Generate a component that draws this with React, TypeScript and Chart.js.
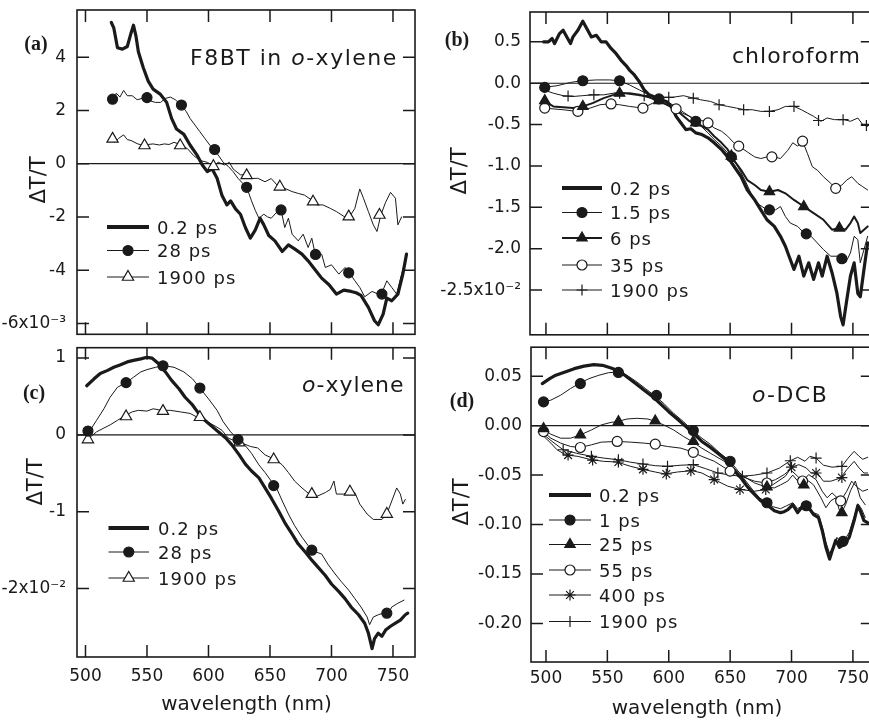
import React, { useEffect, useRef } from 'react';
import { Chart, registerables } from 'chart.js';

Chart.register(...registerables);

// ---------------- data ----------------
const WL_TICKS = [500, 550, 600, 650, 700, 750];

// (a) F8BT in o-xylene — ΔT/T in units of 1e-3
const A_YTICKS = [4, 2, 0, -2, -4, -6];
const A_02_NM = [521, 523, 526, 530, 534, 537, 539, 541, 543, 547, 551, 555, 561, 566, 570, 574, 580, 585, 591, 595, 599, 603, 607, 611, 615, 618, 622, 626, 630, 634, 638, 642, 645, 649, 654, 660, 665, 670, 676, 681, 687, 692, 698, 704, 710, 716, 720, 724, 730, 735, 738, 742, 745, 749, 754, 758, 761];
const A_02_Y = [5.3, 5.1, 4.35, 4.3, 4.4, 4.9, 5.2, 4.8, 4.2, 3.6, 3.1, 2.8, 2.6, 2.3, 1.7, 1.3, 1.1, 0.7, 0.3, -0.05, -0.3, -0.2, -0.55, -1.2, -1.55, -1.4, -1.7, -1.9, -2.4, -2.8, -2.5, -2.05, -2.3, -2.7, -2.9, -3.3, -3.05, -3.2, -3.4, -3.65, -4.0, -4.3, -4.55, -4.9, -4.75, -4.8, -4.85, -4.95, -5.4, -5.9, -6.05, -5.65, -5.05, -5.15, -4.9, -4.15, -3.4];
const A_28_NM = [520, 523, 525, 528, 531, 534, 538, 542, 546, 549, 553, 557, 561, 565, 569, 573, 578, 582, 585, 589, 593, 597, 601, 605, 609, 612, 616, 620, 624, 628, 631, 635, 638, 641, 645, 648, 651, 655, 659, 662, 665, 668, 673, 677, 681, 684, 687, 692, 695, 700, 706, 711, 714, 719, 723, 727, 733, 738, 741, 745, 749, 753, 757, 760];
const A_28_Y = [2.45, 2.3, 2.65, 2.5, 2.75, 2.55, 2.55, 2.4, 2.45, 2.48, 2.35, 2.3, 2.3, 2.45, 2.5, 2.4, 2.2, 1.95, 1.7, 1.45, 1.2, 0.95, 0.7, 0.5, 0.25, 0.05, -0.1, -0.3, -0.55, -0.75, -0.88, -1.4, -1.75, -2.05, -1.9, -2.0, -2.05, -1.85, -1.74, -2.4, -2.05, -2.65, -2.9, -2.65, -3.15, -2.8, -3.45, -3.4, -3.9, -3.8, -4.15, -3.9, -4.05, -4.4, -4.65, -5.0, -4.8, -4.9, -4.85, -4.4, -4.65, -4.9, -4.15, -3.65];
const A_28_MK_NM = [522, 550, 578, 605, 631, 659, 687, 714, 741];
const A_28_MK_Y = [2.42, 2.48, 2.2, 0.53, -0.89, -1.74, -3.41, -4.1, -4.9];
const A_1900_NM = [520, 524, 527, 531, 534, 537, 542, 547, 551, 555, 560, 564, 568, 572, 577, 583, 588, 593, 599, 604, 608, 613, 617, 620, 626, 631, 635, 640, 646, 651, 657, 662, 668, 673, 678, 684, 688, 693, 699, 704, 710, 714, 719, 723, 726, 730, 734, 737, 740, 744, 748, 752, 754, 757];
const A_1900_Y = [0.93, 0.8, 0.95, 1.08, 0.9, 0.87, 0.75, 0.68, 0.72, 0.74, 0.7, 0.74, 0.72, 0.8, 0.72, 0.56, 0.3, 0.12, 0.05, -0.08, 0.05, -0.05, 0.05, -0.2, -0.42, -0.42, -0.56, -0.55, -0.68, -0.56, -0.87, -0.93, -1.05, -1.12, -1.18, -1.37, -1.55, -1.55, -1.68, -1.8, -1.98, -2.05, -1.68, -0.95, -1.3, -1.8, -2.3, -2.55, -1.95, -1.45, -1.08, -1.3, -2.3, -2.0];
const A_1900_MK_NM = [522, 548, 577, 604, 631, 658, 685, 714, 739];
const A_1900_MK_Y = [0.93, 0.68, 0.68, -0.1, -0.44, -0.87, -1.43, -1.99, -1.93];

// (b) chloroform — units of 1e-2
const B_YTICKS = [0.5, 0, -0.5, -1, -1.5, -2, -2.5];
const B_02_NM = [498, 502, 505, 507, 511, 514, 517, 520, 522, 526, 530, 534, 537, 541, 545, 549, 553, 557, 561, 566, 568, 572, 576, 580, 584, 589, 593, 598, 602, 606, 610, 614, 618, 622, 627, 632, 637, 643, 648, 653, 659, 664, 670, 675, 680, 686, 691, 695, 698, 702, 706, 710, 714, 718, 722, 725, 729, 733, 737, 740, 742, 745, 748, 751, 754, 756, 759, 762];
const B_02_Y = [0.5, 0.5, 0.54, 0.48, 0.6, 0.64, 0.56, 0.48, 0.56, 0.64, 0.75, 0.64, 0.56, 0.58, 0.5, 0.5, 0.42, 0.36, 0.28, 0.2, 0.16, 0.1, 0.02, -0.08, -0.14, -0.17, -0.2, -0.22, -0.28, -0.4, -0.48, -0.56, -0.55, -0.6, -0.62, -0.66, -0.72, -0.8, -0.89, -1.0, -1.13, -1.29, -1.41, -1.53, -1.65, -1.73, -1.85, -1.97, -2.09, -2.25, -2.09, -2.33, -2.17, -2.37, -2.17, -2.33, -2.09, -2.29, -2.54, -2.82, -2.92, -2.62, -2.33, -2.17, -2.54, -2.58, -2.25, -1.93];
const B_15_NM = [498, 509, 520, 529, 541, 552, 560, 568, 576, 584, 593, 601, 609, 617, 625, 632, 637, 643, 651, 656, 662, 667, 672, 678, 682, 687, 691, 695, 699, 705, 710, 716, 721, 726, 732, 739, 744, 748, 751, 754, 756, 759, 762];
const B_15_Y = [-0.05, -0.03, 0.01, 0.03, 0.04, 0.04, 0.03, -0.02, -0.08, -0.14, -0.19, -0.24, -0.32, -0.4, -0.5, -0.6, -0.68, -0.76, -0.89, -1.0, -1.17, -1.33, -1.45, -1.51, -1.53, -1.53, -1.49, -1.61, -1.69, -1.73, -1.81, -1.85, -1.93, -2.01, -2.09, -2.09, -2.17, -2.05, -1.85, -1.89, -2.17, -2.01, -1.85];
const B_15_MK_NM = [499, 530, 560, 592, 622, 651, 682, 712, 741];
const B_15_MK_Y = [-0.05, 0.03, 0.03, -0.19, -0.46, -0.89, -1.53, -1.82, -2.12];
const B_6_NM = [498, 506, 514, 522, 530, 538, 547, 555, 561, 568, 576, 584, 593, 601, 609, 617, 625, 632, 637, 643, 648, 653, 659, 664, 670, 675, 682, 689, 695, 702, 710, 718, 726, 733, 739, 744, 748, 751, 754, 756, 759, 762];
const B_6_Y = [-0.21, -0.28, -0.29, -0.3, -0.28, -0.24, -0.18, -0.14, -0.12, -0.12, -0.14, -0.17, -0.22, -0.28, -0.36, -0.46, -0.5, -0.56, -0.64, -0.72, -0.8, -0.93, -1.05, -1.17, -1.23, -1.29, -1.31, -1.29, -1.33, -1.41, -1.49, -1.57, -1.65, -1.77, -1.75, -1.77, -1.69, -1.61, -1.69, -1.81, -1.77, -1.73];
const B_6_MK_NM = [499, 530, 560, 592, 622, 651, 682, 710, 739];
const B_6_MK_Y = [-0.21, -0.28, -0.12, -0.21, -0.48, -0.88, -1.31, -1.49, -1.75];
const B_35_NM = [498, 506, 514, 525, 536, 544, 551, 560, 568, 579, 587, 595, 603, 611, 620, 627, 632, 637, 643, 648, 653, 657, 664, 670, 675, 680, 686, 691, 697, 701, 705, 709, 713, 717, 721, 726, 732, 736, 741, 745, 749, 754, 758, 762];
const B_35_Y = [-0.3, -0.31, -0.32, -0.34, -0.3, -0.26, -0.25, -0.26, -0.28, -0.3, -0.24, -0.2, -0.28, -0.36, -0.42, -0.45, -0.48, -0.54, -0.58, -0.64, -0.72, -0.76, -0.83, -0.89, -0.91, -0.89, -0.89, -0.91, -0.81, -0.72, -0.76, -0.7, -0.85, -1.01, -1.05, -1.13, -1.21, -1.27, -1.23, -1.17, -1.13, -1.21, -1.25, -1.29];
const B_35_MK_NM = [499, 526, 553, 579, 606, 632, 657, 684, 709, 736];
const B_35_MK_Y = [-0.3, -0.34, -0.25, -0.3, -0.31, -0.48, -0.76, -0.89, -0.7, -1.27];
const B_1900_NM = [498, 506, 514, 522, 530, 538, 547, 555, 563, 571, 579, 587, 595, 603, 612, 620, 626, 634, 641, 648, 655, 662, 668, 675, 682, 689, 695, 702, 708, 713, 718, 724, 729, 735, 743, 748, 754, 758, 762];
const B_1900_Y = [-0.08, -0.12, -0.15, -0.16, -0.15, -0.14, -0.14, -0.12, -0.12, -0.14, -0.15, -0.16, -0.17, -0.17, -0.15, -0.18, -0.2, -0.22, -0.26, -0.28, -0.3, -0.32, -0.32, -0.34, -0.34, -0.32, -0.28, -0.28, -0.32, -0.36, -0.4, -0.46, -0.42, -0.44, -0.44, -0.46, -0.42, -0.5, -0.52];
const B_1900_MK_NM = [518, 539, 560, 580, 600, 620, 641, 661, 682, 702, 722, 742, 761];
const B_1900_MK_Y = [-0.155, -0.14, -0.12, -0.15, -0.17, -0.18, -0.26, -0.32, -0.34, -0.28, -0.45, -0.44, -0.51];

// (c) o-xylene — units of 1e-2
const C_YTICKS = [1, 0, -1, -2];
const C_02_NM = [501, 507, 512, 518, 523, 528, 534, 539, 545, 550, 554, 560, 565, 570, 576, 581, 587, 592, 597, 603, 608, 614, 619, 625, 630, 635, 641, 646, 651, 657, 662, 668, 673, 679, 684, 689, 695, 700, 706, 711, 716, 722, 727, 730, 733, 735, 738, 741, 744, 748, 752, 756, 760, 762];
const C_02_Y = [0.64, 0.73, 0.8, 0.84, 0.88, 0.91, 0.95, 0.97, 0.99, 1.01, 1.0, 0.92, 0.82, 0.71, 0.6, 0.49, 0.39, 0.28, 0.19, 0.11, 0.04, -0.04, -0.13, -0.26, -0.38, -0.47, -0.56, -0.69, -0.82, -0.99, -1.14, -1.29, -1.42, -1.53, -1.63, -1.72, -1.83, -1.94, -2.04, -2.13, -2.24, -2.34, -2.45, -2.58, -2.78, -2.65, -2.58, -2.62, -2.54, -2.49, -2.45, -2.41, -2.34, -2.32];
const C_28_NM = [503, 509, 515, 520, 526, 533, 539, 545, 550, 557, 564, 572, 580, 587, 593, 600, 607, 612, 618, 624, 630, 635, 641, 646, 651, 655, 660, 665, 670, 676, 681, 685, 692, 697, 703, 708, 714, 719, 724, 729, 731, 734, 738, 742, 746, 749, 754, 759];
const C_28_Y = [0.04, 0.19, 0.34, 0.49, 0.62, 0.68, 0.75, 0.82, 0.85, 0.88, 0.9, 0.88, 0.82, 0.73, 0.61, 0.47, 0.32, 0.17, 0.04, -0.06, -0.14, -0.24, -0.39, -0.49, -0.6, -0.68, -0.86, -1.03, -1.18, -1.33, -1.44, -1.51, -1.55, -1.68, -1.81, -1.91, -2.02, -2.13, -2.24, -2.37, -2.47, -2.37, -2.34, -2.32, -2.33, -2.24, -2.19, -2.15];
const C_28_MK_NM = [502, 533, 563, 593, 624, 653, 684, 745];
const C_28_MK_Y = [0.05, 0.68, 0.9, 0.61, -0.06, -0.66, -1.5, -2.32];
const C_1900_NM = [503, 509, 515, 520, 526, 532, 538, 543, 550, 555, 562, 569, 577, 585, 592, 599, 606, 611, 616, 623, 628, 634, 640, 646, 654, 660, 665, 670, 676, 682, 688, 695, 699, 702, 704, 710, 714, 719, 723, 729, 734, 741, 745, 749, 753, 756, 758, 760];
const C_1900_Y = [-0.04, 0.04, 0.09, 0.13, 0.19, 0.25, 0.3, 0.32, 0.31, 0.34, 0.32, 0.32, 0.3, 0.28, 0.22, 0.17, 0.11, 0.06, -0.04, -0.09, -0.11, -0.15, -0.17, -0.26, -0.32, -0.39, -0.49, -0.6, -0.69, -0.77, -0.8, -0.75, -0.71, -0.6, -0.77, -0.77, -0.73, -0.75, -0.9, -1.03, -1.1, -1.1, -1.03, -0.86, -0.69, -0.77, -0.9, -0.84];
const C_1900_MK_NM = [502, 533, 563, 593, 625, 653, 684, 715, 745];
const C_1900_MK_Y = [-0.06, 0.24, 0.31, 0.23, -0.1, -0.32, -0.77, -0.74, -1.03];

// (d) o-DCB — absolute ΔT/T
const D_YTICKS = [0.05, 0, -0.05, -0.1, -0.15, -0.2];
const D_02_NM = [497, 503, 508, 515, 523, 531, 539, 546, 553, 560, 566, 573, 580, 587, 593, 600, 607, 614, 620, 627, 634, 641, 648, 653, 659, 663, 667, 671, 675, 679, 683, 686, 691, 694, 697, 701, 705, 708, 710, 714, 718, 722, 725, 728, 731, 733, 736, 739, 743, 747, 751, 754, 756, 759, 762];
const D_02_Y = [0.0425, 0.0475, 0.051, 0.054, 0.0576, 0.0602, 0.0616, 0.061, 0.0582, 0.0549, 0.0492, 0.0425, 0.0358, 0.0291, 0.0224, 0.0141, 0.0067, -0.001, -0.0077, -0.016, -0.022, -0.029, -0.036, -0.045, -0.053, -0.06, -0.066, -0.071, -0.076, -0.08, -0.083, -0.086, -0.088, -0.087, -0.085, -0.08, -0.088, -0.083, -0.081, -0.083, -0.09, -0.093, -0.106, -0.123, -0.135, -0.127, -0.116, -0.123, -0.12, -0.113, -0.096, -0.081, -0.086, -0.096, -0.098];
const D_1_NM = [497, 504, 512, 520, 527, 535, 543, 551, 558, 566, 574, 581, 588, 596, 604, 612, 619, 627, 634, 641, 648, 654, 659, 664, 669, 674, 680, 685, 691, 696, 701, 705, 710, 714, 718, 722, 725, 728, 731, 734, 737, 740, 743, 747, 751, 754, 757, 760];
const D_1_Y = [0.0234, 0.0258, 0.0308, 0.0375, 0.0425, 0.0475, 0.0509, 0.0535, 0.0542, 0.0509, 0.0442, 0.0375, 0.0308, 0.0224, 0.0124, 0.004, -0.0044, -0.0127, -0.019, -0.027, -0.034, -0.042, -0.05, -0.058, -0.066, -0.073, -0.078, -0.082, -0.084, -0.081, -0.078, -0.084, -0.08, -0.082, -0.088, -0.09, -0.102, -0.118, -0.129, -0.122, -0.113, -0.118, -0.116, -0.108, -0.092, -0.079, -0.084, -0.093];
const D_1_MK_NM = [498, 528, 559, 590, 620, 650, 680, 712, 742];
const D_1_MK_Y = [0.024, 0.0425, 0.0538, 0.0305, -0.005, -0.036, -0.078, -0.081, -0.117];
const D_25_NM = [497, 504, 512, 520, 528, 537, 545, 553, 558, 566, 574, 583, 588, 596, 604, 612, 619, 627, 634, 641, 648, 655, 662, 670, 679, 686, 691, 697, 701, 705, 709, 714, 718, 724, 728, 732, 736, 740, 744, 748, 752, 756, 760];
const D_25_Y = [-0.003, -0.0087, -0.0127, -0.0127, -0.0094, -0.0044, 0.0007, 0.0033, 0.004, 0.0067, 0.0074, 0.0067, 0.0047, 0.0007, -0.0044, -0.011, -0.016, -0.0228, -0.028, -0.033, -0.038, -0.045, -0.052, -0.058, -0.062, -0.063, -0.06, -0.056, -0.05, -0.056, -0.061, -0.056, -0.06, -0.073, -0.083, -0.076, -0.073, -0.0897, -0.08, -0.066, -0.056, -0.073, -0.08];
const D_25_MK_NM = [498, 528, 559, 589, 620, 680, 710, 741];
const D_25_MK_Y = [-0.003, -0.0094, 0.004, 0.0047, -0.016, -0.062, -0.06, -0.088];
const D_55_NM = [497, 504, 512, 520, 528, 537, 545, 558, 569, 580, 588, 599, 610, 619, 627, 637, 648, 659, 670, 679, 687, 694, 699, 705, 709, 714, 720, 725, 729, 733, 740, 745, 749, 754, 758, 762];
const D_55_Y = [-0.0054, -0.0127, -0.0177, -0.0211, -0.0221, -0.0194, -0.0167, -0.016, -0.0167, -0.0177, -0.0187, -0.0211, -0.0228, -0.0265, -0.0311, -0.036, -0.0445, -0.0512, -0.0562, -0.058, -0.0546, -0.0495, -0.0445, -0.0512, -0.0562, -0.0495, -0.0546, -0.0663, -0.073, -0.068, -0.0763, -0.0663, -0.0562, -0.0629, -0.0663, -0.0646];
const D_55_MK_NM = [498, 528, 558, 589, 620, 650, 680, 709, 740];
const D_55_MK_Y = [-0.006, -0.0221, -0.016, -0.0187, -0.027, -0.046, -0.058, -0.056, -0.076];
const D_400_NM = [497, 504, 509, 516, 526, 537, 547, 558, 569, 580, 589, 597, 607, 619, 627, 637, 648, 658, 670, 679, 689, 695, 700, 706, 712, 716, 721, 726, 732, 740, 745, 751, 755, 759, 762];
const D_400_Y = [-0.0094, -0.0177, -0.0244, -0.0295, -0.0311, -0.0345, -0.0361, -0.0368, -0.0412, -0.0445, -0.0469, -0.0489, -0.0469, -0.0455, -0.0479, -0.0545, -0.0612, -0.0646, -0.0663, -0.0646, -0.0562, -0.0512, -0.042, -0.0395, -0.0428, -0.0479, -0.0479, -0.0562, -0.0562, -0.0529, -0.0445, -0.0361, -0.0428, -0.0479, -0.0479];
const D_400_MK_NM = [518, 538, 559, 579, 598, 618, 637, 658, 679, 700, 720, 741];
const D_400_MK_Y = [-0.0298, -0.0348, -0.0368, -0.0442, -0.0489, -0.0456, -0.0545, -0.0646, -0.0646, -0.042, -0.0479, -0.0525];
const D_1900_NM = [497, 505, 514, 525, 537, 548, 559, 569, 579, 589, 599, 610, 620, 630, 640, 650, 660, 670, 680, 690, 699, 705, 711, 715, 720, 726, 733, 741, 746, 751, 755, 758, 762];
const D_1900_Y = [-0.008, -0.016, -0.0244, -0.028, -0.031, -0.033, -0.0345, -0.037, -0.0388, -0.0405, -0.0412, -0.04, -0.0395, -0.0435, -0.0479, -0.05, -0.0512, -0.05, -0.0479, -0.043, -0.0355, -0.032, -0.036, -0.031, -0.0328, -0.04, -0.042, -0.0412, -0.033, -0.026, -0.031, -0.034, -0.032];
const D_1900_MK_NM = [514, 537, 559, 579, 599, 620, 640, 660, 680, 699, 720, 741];
const D_1900_MK_Y = [-0.0244, -0.031, -0.0345, -0.0388, -0.0412, -0.0395, -0.0479, -0.0512, -0.0479, -0.0355, -0.0328, -0.0412];

// ---------------- styling ----------------
const INK = '#1a1a1a';
const SANS = '"DejaVu Sans", "Liberation Sans", sans-serif';
const SERIF = '"Liberation Serif", "DejaVu Serif", serif';
const TICK = 12;

const MK: any = {
  fcircle: { style: 'circle', fill: INK, r: 5 },
  ocircle: { style: 'circle', fill: '#ffffff', r: 5 },
  ftri: { style: 'triangle', fill: INK, r: 6 },
  otri: { style: 'triangle', fill: '#ffffff', r: 6.5 },
  cross: { style: 'cross', fill: INK, r: 5.5 },
  star: { style: 'star', fill: INK, r: 5.5 },
};

const THICK = 3.2;

function ser(label: string, nm: number[], y: number[], width: number, mk?: string, mkNm?: number[], mkY?: number[]) {
  return { label, nm, y, width, mk, mkNm, mkY };
}

const PANELS: any[] = [
  {
    id: 'a', left: 0, top: 0, w: 425, h: 342, yAxisW: 77, xAxisH: 5, padTop: 10, padRight: 10,
    xMin: 493.1, xMax: 767.9, yMin: -6.41, yMax: 5.77, yTicks: A_YTICKS, yPad: 11, showX: false, xPad: 9,
    yFmt: (v: number) => (v === -6 ? '-6x10⁻³' : String(v)),
    series: [
      ser('0.2 ps', A_02_NM, A_02_Y, THICK),
      ser('28 ps', A_28_NM, A_28_Y, 1, 'fcircle', A_28_MK_NM, A_28_MK_Y),
      ser('1900 ps', A_1900_NM, A_1900_Y, 1, 'otri', A_1900_MK_NM, A_1900_MK_Y),
    ],
    tag: '(a)', tagX: 36, tagY: 45,
    note: [{ t: 'F8BT in ' }, { t: 'o', it: true }, { t: '-xylene' }], noteX: 190, noteY: 65, noteSp: '1.5px',
    legX1: 107, legX2: 149, legTX: 157, legRows: [227, 250.5, 277],
    yTitleX: 40, yTitleY: 180,
  },
  {
    id: 'b', left: 440, top: 0, w: 440, h: 342, yAxisW: 90, xAxisH: 7, padTop: 12, padRight: 6,
    xMin: 487.0, xMax: 766.2, yMin: -3.04, yMax: 0.861, yTicks: B_YTICKS, yPad: 9, showX: false, xPad: 6,
    yFmt: (v: number) => (v === -2.5 ? '-2.5x10⁻²' : v.toFixed(1)),
    series: [
      ser('0.2 ps', B_02_NM, B_02_Y, THICK),
      ser('1.5 ps', B_15_NM, B_15_Y, 1, 'fcircle', B_15_MK_NM, B_15_MK_Y),
      ser('6 ps', B_6_NM, B_6_Y, 2, 'ftri', B_6_MK_NM, B_6_MK_Y),
      ser('35 ps', B_35_NM, B_35_Y, 1, 'ocircle', B_35_MK_NM, B_35_MK_Y),
      ser('1900 ps', B_1900_NM, B_1900_Y, 1, 'cross', B_1900_MK_NM, B_1900_MK_Y),
    ],
    tag: '(b)', tagX: 457, tagY: 41,
    note: [{ t: 'chloroform' }], noteX: 732, noteY: 63, noteSp: '1px',
    legX1: 562, legX2: 602, legTX: 610, legRows: [188, 212.5, 238, 265, 290],
    yTitleX: 461, yTitleY: 171,
  },
  {
    id: 'c', left: 0, top: 340, w: 425, h: 380, yAxisW: 77, xAxisH: 63, padTop: 5, padRight: 10,
    xMin: 493.1, xMax: 767.9, yMin: -2.89, yMax: 1.135, yTicks: C_YTICKS, yPad: 11, showX: true, xPad: 9,
    yFmt: (v: number) => (v === -2 ? '-2x10⁻²' : String(v)),
    series: [
      ser('0.2 ps', C_02_NM, C_02_Y, THICK),
      ser('28 ps', C_28_NM, C_28_Y, 1, 'fcircle', C_28_MK_NM, C_28_MK_Y),
      ser('1900 ps', C_1900_NM, C_1900_Y, 1, 'otri', C_1900_MK_NM, C_1900_MK_Y),
    ],
    tag: '(c)', tagX: 34, tagY: 394,
    note: [{ t: 'o', it: true }, { t: '-xylene' }], noteX: 302, noteY: 392, noteSp: '1px',
    legX1: 108.5, legX2: 149, legTX: 158, legRows: [528, 552, 578],
    yTitleX: 37, yTitleY: 482, xTitleX: 246.5, xTitleY: 710,
  },
  {
    id: 'd', left: 440, top: 340, w: 440, h: 380, yAxisW: 91, xAxisH: 58, padTop: 5, padRight: 6,
    xMin: 487.8, xMax: 766.2, yMin: -0.239, yMax: 0.0793, yTicks: D_YTICKS, yPad: 9, showX: true, xPad: 6,
    yFmt: (v: number) => v.toFixed(2),
    series: [
      ser('0.2 ps', D_02_NM, D_02_Y, THICK),
      ser('1 ps', D_1_NM, D_1_Y, 1, 'fcircle', D_1_MK_NM, D_1_MK_Y),
      ser('25 ps', D_25_NM, D_25_Y, 1, 'ftri', D_25_MK_NM, D_25_MK_Y),
      ser('55 ps', D_55_NM, D_55_Y, 1, 'ocircle', D_55_MK_NM, D_55_MK_Y),
      ser('400 ps', D_400_NM, D_400_Y, 1, 'star', D_400_MK_NM, D_400_MK_Y),
      ser('1900 ps', D_1900_NM, D_1900_Y, 1, 'cross', D_1900_MK_NM, D_1900_MK_Y),
    ],
    tag: '(d)', tagX: 462, tagY: 402,
    note: [{ t: 'o', it: true }, { t: '-DCB' }], noteX: 752, noteY: 402, noteSp: '1.5px',
    legX1: 549, legX2: 591, legTX: 599, legRows: [495, 520, 544.5, 570, 595, 621.5],
    yTitleX: 463, yTitleY: 502, xTitleX: 697, xTitleY: 714,
  },
];

function drawMarker(ctx: any, mk: string, x: number, y: number) {
  const m = MK[mk];
  const r = m.r;
  ctx.save();
  ctx.lineWidth = 1.2;
  ctx.strokeStyle = INK;
  ctx.fillStyle = m.fill;
  ctx.beginPath();
  if (m.style === 'circle') {
    ctx.arc(x, y, r, 0, Math.PI * 2);
    ctx.fill();
    ctx.stroke();
  } else if (m.style === 'triangle') {
    for (let k = 0; k < 3; k++) {
      const a = (k * 2 * Math.PI) / 3;
      const px = x + Math.sin(a) * r;
      const py = y - Math.cos(a) * r;
      if (k === 0) ctx.moveTo(px, py);
      else ctx.lineTo(px, py);
    }
    ctx.closePath();
    ctx.fill();
    ctx.stroke();
  } else if (m.style === 'cross') {
    ctx.moveTo(x, y - r); ctx.lineTo(x, y + r);
    ctx.moveTo(x - r, y); ctx.lineTo(x + r, y);
    ctx.stroke();
  } else if (m.style === 'star') {
    ctx.moveTo(x, y - r); ctx.lineTo(x, y + r);
    ctx.moveTo(x - r, y); ctx.lineTo(x + r, y);
    const d = r * Math.SQRT1_2;
    ctx.moveTo(x - d, y - d); ctx.lineTo(x + d, y + d);
    ctx.moveTo(x - d, y + d); ctx.lineTo(x + d, y - d);
    ctx.stroke();
  }
  ctx.restore();
}

function decoPlugin(p: any) {
  return {
    id: 'deco_' + p.id,
    beforeDatasetsDraw(chart: any) {
      const { ctx, chartArea: a, scales } = chart;
      const y0 = scales.y.getPixelForValue(0);
      ctx.save();
      ctx.strokeStyle = INK;
      ctx.lineWidth = 1.2;
      ctx.beginPath();
      ctx.moveTo(a.left, y0);
      ctx.lineTo(a.right, y0);
      ctx.stroke();
      ctx.restore();
    },
    afterDraw(chart: any) {
      const { ctx, chartArea: a, scales } = chart;
      const ox = p.left;
      const oy = p.top;
      ctx.save();
      // frame
      ctx.strokeStyle = INK;
      ctx.lineWidth = 1.6;
      ctx.strokeRect(a.left, a.top, a.right - a.left, a.bottom - a.top);
      // inward tick marks on all four sides
      ctx.lineWidth = 1.5;
      ctx.beginPath();
      for (const v of WL_TICKS) {
        const x = scales.x.getPixelForValue(v);
        ctx.moveTo(x, a.top); ctx.lineTo(x, a.top + TICK);
        ctx.moveTo(x, a.bottom); ctx.lineTo(x, a.bottom - TICK);
      }
      for (const v of p.yTicks) {
        const y = scales.y.getPixelForValue(v);
        ctx.moveTo(a.left, y); ctx.lineTo(a.left + TICK, y);
        ctx.moveTo(a.right, y); ctx.lineTo(a.right - TICK, y);
      }
      ctx.stroke();

      ctx.fillStyle = INK;
      // legend
      p.series.forEach((s: any, i: number) => {
        const y = p.legRows[i] - oy;
        ctx.save();
        ctx.strokeStyle = INK;
        ctx.lineWidth = s.width > 2 ? 4 : s.width;
        ctx.beginPath();
        ctx.moveTo(p.legX1 - ox, y);
        ctx.lineTo(p.legX2 - ox, y);
        ctx.stroke();
        ctx.restore();
        if (s.mk) drawMarker(ctx, s.mk, (p.legX1 + p.legX2) / 2 - ox, y);
        ctx.font = `18px ${SANS}`;
        (ctx as any).letterSpacing = '1px';
        ctx.textAlign = 'left';
        ctx.textBaseline = 'alphabetic';
        ctx.fillText(s.label, p.legTX - ox, y + 6.6);
      });

      // annotation text with italic "o"
      (ctx as any).letterSpacing = p.noteSp;
      ctx.textAlign = 'left';
      ctx.textBaseline = 'alphabetic';
      let cx = p.noteX - ox;
      for (const part of p.note) {
        ctx.font = `${part.it ? 'italic ' : ''}22px ${SANS}`;
        ctx.fillText(part.t, cx, p.noteY - oy);
        cx += ctx.measureText(part.t).width;
      }
      (ctx as any).letterSpacing = '0px';

      // panel tag
      ctx.font = `bold 20px ${SERIF}`;
      ctx.textAlign = 'center';
      ctx.textBaseline = 'middle';
      ctx.fillText(p.tag, p.tagX - ox, p.tagY - oy);

      // y title
      ctx.save();
      ctx.translate(p.yTitleX - ox, p.yTitleY - oy);
      ctx.rotate(-Math.PI / 2);
      ctx.font = `21px ${SANS}`;
      ctx.textAlign = 'center';
      ctx.textBaseline = 'middle';
      ctx.fillText('ΔT/T', 0, 0);
      ctx.restore();

      // x title
      if (p.xTitleY) {
        ctx.font = `20px ${SANS}`;
        ctx.textAlign = 'center';
        ctx.textBaseline = 'alphabetic';
        ctx.fillText('wavelength (nm)', p.xTitleX - ox, p.xTitleY - oy);
      }
      ctx.restore();
    },
  };
}

function buildConfig(p: any): any {
  const datasets: any[] = [];
  p.series.forEach((s: any, i: number) => {
    datasets.push({
      label: s.label,
      data: s.nm.map((x: number, k: number) => ({ x, y: s.y[k] })),
      showLine: true,
      borderColor: INK,
      backgroundColor: INK,
      borderWidth: s.width,
      pointRadius: 0,
      pointHoverRadius: 0,
      tension: 0,
      borderJoinStyle: 'round',
      borderCapStyle: 'round',
      fill: false,
      order: 20 + i,
    });
    if (s.mk && s.mkNm) {
      const m = MK[s.mk];
      datasets.push({
        label: s.label + ' markers',
        data: s.mkNm.map((x: number, k: number) => ({ x, y: s.mkY[k] })),
        showLine: false,
        pointStyle: m.style,
        pointRadius: m.r,
        pointHoverRadius: m.r,
        pointBackgroundColor: m.fill,
        pointBorderColor: INK,
        pointBorderWidth: 1.2,
        order: i,
      });
    }
  });
  const tickFont = { family: SANS, size: 17 };
  return {
    type: 'scatter',
    data: { datasets },
    options: {
      animation: false,
      responsive: false,
      maintainAspectRatio: false,
      events: [],
      layout: { padding: { top: p.padTop, right: p.padRight, left: 0, bottom: 0 } },
      plugins: { legend: { display: false }, tooltip: { enabled: false }, title: { display: false } },
      scales: {
        x: {
          type: 'linear',
          position: 'bottom',
          min: p.xMin,
          max: p.xMax,
          grid: { display: false, drawTicks: false },
          border: { display: false },
          ticks: {
            display: p.showX,
            padding: p.xPad,
            color: INK,
            font: tickFont,
            autoSkip: false,
            maxRotation: 0,
            minRotation: 0,
            callback: (v: number) => String(v),
          },
          afterBuildTicks: (s: any) => {
            s.ticks = WL_TICKS.map((v) => ({ value: v }));
          },
          afterFit: (s: any) => {
            s.height = p.xAxisH;
            s.paddingLeft = 0; s.paddingRight = 0; s.paddingTop = 0; s.paddingBottom = 0;
          },
        },
        y: {
          type: 'linear',
          position: 'left',
          min: p.yMin,
          max: p.yMax,
          grid: { display: false, drawTicks: false },
          border: { display: false },
          ticks: {
            padding: p.yPad,
            color: INK,
            font: tickFont,
            autoSkip: false,
            callback: (v: number) => p.yFmt(v),
          },
          afterBuildTicks: (s: any) => {
            s.ticks = p.yTicks.map((v: number) => ({ value: v }));
          },
          afterFit: (s: any) => {
            s.width = p.yAxisW;
            s.paddingLeft = 0; s.paddingRight = 0; s.paddingTop = 0; s.paddingBottom = 0;
          },
        },
      },
    },
    plugins: [decoPlugin(p)],
  };
}

function PanelChart({ p }: { p: any }) {
  const ref = useRef<HTMLCanvasElement | null>(null);
  useEffect(() => {
    if (!ref.current) return;
    const chart = new Chart(ref.current, buildConfig(p));
    return () => chart.destroy();
  }, [p]);
  return (
    <canvas
      ref={ref}
      width={p.w}
      height={p.h}
      style={{ position: 'absolute', left: p.left, top: p.top, width: p.w, height: p.h }}
    />
  );
}

export default function App() {
  return (
    <div
      style={{
        position: 'absolute',
        left: 0,
        top: 0,
        width: 869,
        height: 720,
        overflow: 'hidden',
        background: '#ffffff',
      }}
    >
      {PANELS.map((p) => (
        <PanelChart key={p.id} p={p} />
      ))}
    </div>
  );
}
